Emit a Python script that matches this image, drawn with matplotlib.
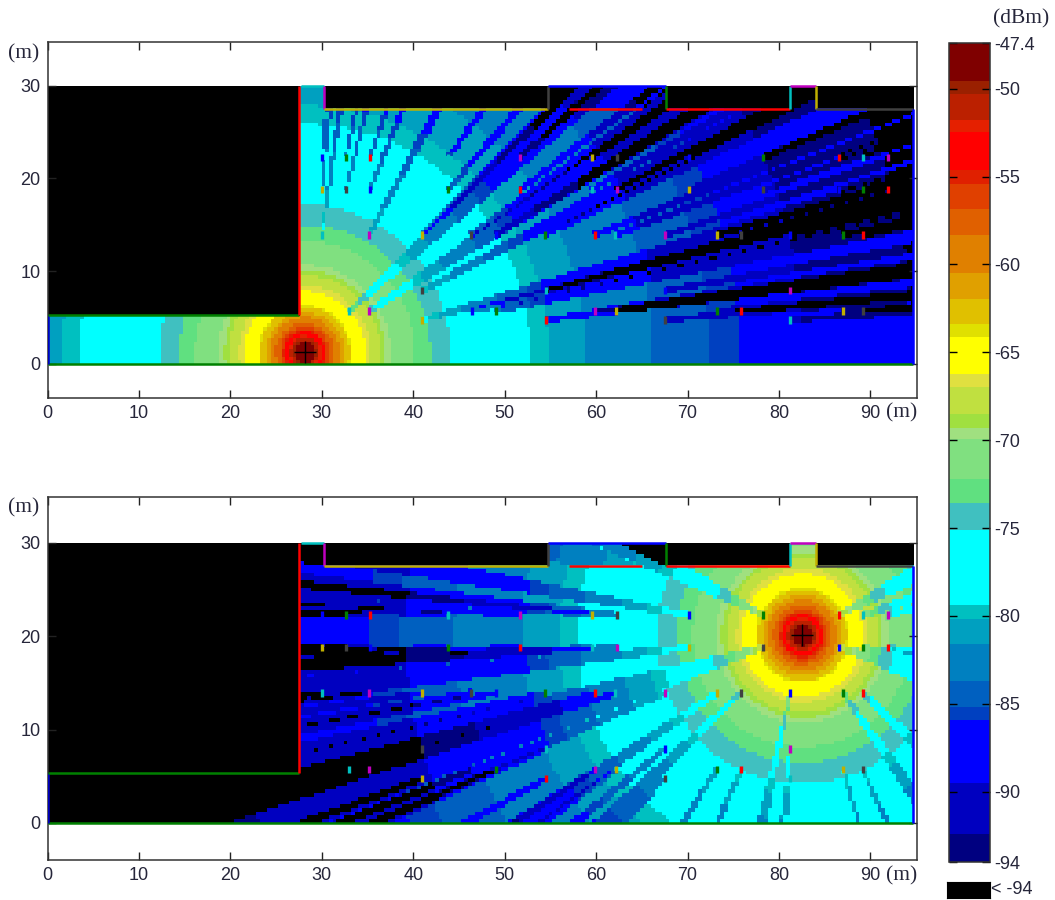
"""Received power maps for two transmitter positions in a hall with pillars"""

import numpy as np
import matplotlib

matplotlib.use("Agg")
import matplotlib.pyplot as plt
import matplotlib.colors as mcolors

plt.rcParams["font.family"] = ["Liberation Sans", "DejaVu Sans"]

TEXT_COLOR = "#26263a"

BAND_EDGES = [
    -94, -92.4, -89.5, -85.9, -85.2, -83.7, -81.6, -80.2, -79.4, -75.1,
    -73.6, -72.2, -69.95, -69.3, -68.5, -67, -66.25, -64.1, -63.4, -61.95,
    -60.5, -58.35, -56.86, -55.4, -54.6, -52.44, -51.8, -50.3, -49.55, -47.4,
]
BAND_COLORS = [
    "#000080", "#0000c0", "#0000ff", "#0040c0", "#0060c0", "#0080c0", "#00a0c0",
    "#00c0c0", "#00ffff", "#40c0c0", "#60e080", "#80e080", "#a0e080", "#a0e040",
    "#c0e040", "#e0e040", "#ffff00", "#e0e000", "#e0c000", "#e0a000", "#e08000",
    "#e06000", "#e04000", "#e02000", "#ff0000", "#e52000", "#bb2000", "#9a2000",
    "#7f0000",
]
CBAR_TICKS = [-94, -90, -85, -80, -75, -70, -65, -60, -55, -50, -47.4]

# distance from the source (m) where each band ends, read along the open rings
RING_RADII = [
    1.15, 1.3, 1.6, 1.8, 2.2, 2.4, 2.75, 3.2, 3.8, 4.3, 4.9, 5.1, 6.6, 7.2,
    8.3, 8.8, 9.4, 12.0, 13.7, 15.9, 24.6, 26.6, 30.7, 38.0, 44.2, 47.5, 75.0,
    95.0, 110.0,
]
RING_DBM = BAND_EDGES[-2::-1]

PILLAR_LOSS_TOP = 5.6
PILLAR_LOSS_BOTTOM = 4.5
PILLAR_HALF_X = 0.1
PILLAR_HALF_Y = 0.3
SOURCE_TOP = (28.15, 1.25)
SOURCE_BOTTOM = (82.55, 20.1)

# pillars: x, y, colour
PILLAR_X = [
    30.0, 32.65, 35.3, 43.8, 51.7, 59.5, 62.3, 70.2, 78.3, 86.6, 89.2, 91.9,
    30.0, 32.65, 35.3, 43.8, 51.7, 59.5, 62.3, 70.2, 78.3, 86.6, 89.2, 91.9,
    30.0, 35.15, 41.0, 46.3, 49.0, 54.4, 59.9, 62.1, 67.5, 73.2, 75.9, 81.2, 87.0, 89.2,
    41.0, 54.5, 67.5, 81.2,
    33.0, 35.15, 46.4, 49.0, 59.9, 62.2, 73.2, 75.9, 87.0, 89.2,
    41.0, 54.5, 67.5, 81.2,
]
PILLAR_Y = [22.25] * 12 + [18.8] * 12 + [13.9] * 14 + [7.9] * 4 + [5.7] * 10 + [4.75] * 4
PILLAR_C = list("bgrcmyk" "bgrcm") + list("ykbgrcmykbgr") + list("cmykbgrcmykbgr") + list("kcbm") + list("cmbgmygryk") + list("yrkc")
PILLAR_COLORS = {
    "b": "#0000ff", "g": "#008000", "r": "#ff0000", "c": "#00c0c0",
    "m": "#c000c0", "y": "#c0b000", "k": "#404040",
}

# wall segments: x0, y0, x1, y1, colour, loss in dB
WALLS = [
    (0, 0, 94.7, 0, "#008000", 0),
    (0, 0, 0, 5.3, "#0000c0", 0),
    (0, 5.3, 27.5, 5.3, "#008000", 40),
    (27.5, 5.3, 27.5, 30, "#ff0000", 40),
    (27.7, 30, 30.2, 30, "#00c0c0", 0),
    (30.2, 27.5, 30.2, 30, "#c000c0", 40),
    (30.2, 27.5, 54.7, 27.5, "#c0b000", 40),
    (54.7, 27.5, 54.7, 30, "#404040", 40),
    (54.7, 30, 67.6, 30, "#0000ff", 0),
    (57.0, 27.5, 65.0, 27.5, "#ff0000", 3),
    (67.6, 27.5, 67.6, 30, "#008000", 40),
    (67.6, 27.5, 81.2, 27.5, "#ff0000", 40),
    (81.2, 27.5, 81.2, 30, "#00c0c0", 40),
    (81.2, 30, 84.0, 30, "#c000c0", 0),
    (84.0, 27.5, 84.0, 30, "#c0b000", 40),
    (84.0, 27.5, 94.7, 27.5, "#404040", 40),
    (94.7, 0, 94.7, 27.5, "#0000ff", 0),
]

# areas outside the hall that show as solid black: x0, y0, x1, y1
SOLID_AREAS = [
    (0, 5.3, 27.5, 30),
    (30.2, 27.5, 54.7, 30),
    (67.6, 27.5, 81.2, 30),
    (84.0, 27.5, 96, 30),
]

CELL = 0.4


def crosses(sx, sy, px, py, wall):
    "True where the straight line source -> cell crosses a wall segment"
    ax, ay, bx, by = wall[:4]
    d1 = (bx - ax) * (sy - ay) - (by - ay) * (sx - ax)
    d2 = (bx - ax) * (py - ay) - (by - ay) * (px - ax)
    d3 = (px - sx) * (ay - sy) - (py - sy) * (ax - sx)
    d4 = (px - sx) * (by - sy) - (py - sy) * (bx - sx)
    return (d1 * d2 < 0) & (d3 * d4 < 0)


def power_map(source, pillar_loss):
    sx, sy = source
    xs = np.arange(0, 237) * CELL
    ys = np.arange(0, 75) * CELL
    xc, yc = np.meshgrid(xs + CELL / 2, ys + CELL / 2)
    dist = np.hypot(xc - sx, yc - sy)
    level = np.interp(dist, RING_RADII, RING_DBM)

    ang = np.arctan2(yc - sy, xc - sx)
    for x, y in zip(PILLAR_X, PILLAR_Y):
        mid = np.arctan2(y - sy, x - sx)
        corners = [
            (x - PILLAR_HALF_X, y - PILLAR_HALF_Y),
            (x + PILLAR_HALF_X, y - PILLAR_HALF_Y),
            (x - PILLAR_HALF_X, y + PILLAR_HALF_Y),
            (x + PILLAR_HALF_X, y + PILLAR_HALF_Y),
        ]
        off = [np.angle(np.exp(1j * (np.arctan2(cy - sy, cx - sx) - mid))) for cx, cy in corners]
        rel = np.angle(np.exp(1j * (ang - mid)))
        behind = dist > np.hypot(x - sx, y - sy)
        level = level - pillar_loss * ((rel > min(off)) & (rel < max(off)) & behind)

    for wall in WALLS:
        if wall[5] > 0:
            level = level - wall[5] * crosses(sx, sy, xc, yc, wall)

    for x0, y0, x1, y1 in SOLID_AREAS:
        level[(xc > x0) & (xc < x1) & (yc > y0) & (yc < y1)] = -120

    edges_x = np.append(xs, xs[-1] + CELL)
    edges_y = np.append(ys, ys[-1] + CELL)
    return edges_x, edges_y, level


def draw_panel(fig, rect, ylim, source, pillar_loss, cmap, norm):
    ax = fig.add_axes(rect)
    x, y, level = power_map(source, pillar_loss)
    ax.pcolormesh(x, y, level, cmap=cmap, norm=norm, rasterized=True)

    for x0, y0, x1, y1, color, _ in WALLS:
        ax.plot([x0, x1], [y0, y1], color=color, lw=1.8, solid_capstyle="butt", zorder=3)

    ax.vlines(
        PILLAR_X,
        np.array(PILLAR_Y) - 0.4,
        np.array(PILLAR_Y) + 0.4,
        colors=[PILLAR_COLORS[c] for c in PILLAR_C],
        lw=2.4,
        zorder=4,
    )
    ax.plot(source[0], source[1], marker="+", color="black", ms=16, mew=1.0, zorder=5)

    ax.set_xlim(0, 95.1)
    ax.set_ylim(*ylim)
    ax.set_xticks(range(0, 100, 10))
    ax.set_yticks([0, 10, 20, 30])
    ax.tick_params(
        direction="in", top=True, right=True, length=5.8, width=1,
        labelsize=13, labelcolor=TEXT_COLOR, color="#222222", pad=5,
    )
    for spine in ax.spines.values():
        spine.set_linewidth(1.1)
        spine.set_color("#333333")
    return ax


def main():
    W, H = 1055.0, 900.0
    fig = plt.figure(figsize=(W / 100, H / 100), dpi=100)

    cmap = mcolors.ListedColormap(BAND_COLORS)
    cmap.set_under("black")
    norm = mcolors.BoundaryNorm(BAND_EDGES, cmap.N)

    draw_panel(
        fig, [47.5 / W, 1 - 398 / H, 869.5 / W, 356 / H], (-3.67, 34.7),
        SOURCE_TOP, PILLAR_LOSS_TOP, cmap, norm,
    )
    draw_panel(
        fig, [47.5 / W, 1 - 860 / H, 869.5 / W, 363 / H], (-3.97, 34.9),
        SOURCE_BOTTOM, PILLAR_LOSS_BOTTOM, cmap, norm,
    )

    serif = {"family": "Liberation Serif", "color": TEXT_COLOR, "fontsize": 15.5}
    fig.text(24 / W, 1 - 54 / H, "(m)", ha="center", va="center", **serif)
    fig.text(24 / W, 1 - 508 / H, "(m)", ha="center", va="center", **serif)
    fig.text(902 / W, 1 - 413 / H, "(m)", ha="center", va="center", **serif)
    fig.text(902 / W, 1 - 876 / H, "(m)", ha="center", va="center", **serif)
    fig.text(1021 / W, 1 - 19 / H, "(dBm)", ha="center", va="center", **serif)

    cax = fig.add_axes([949 / W, 1 - 862 / H, 41 / W, 819 / H])
    sm = plt.cm.ScalarMappable(norm=norm, cmap=cmap)
    cbar = fig.colorbar(sm, cax=cax, spacing="proportional", ticks=CBAR_TICKS, drawedges=False)
    cbar.ax.minorticks_off()
    cbar.ax.set_yticklabels([str(t) for t in CBAR_TICKS])
    cbar.ax.tick_params(
        direction="in", left=True, right=True, length=5.8, width=1,
        labelsize=13, labelcolor=TEXT_COLOR, pad=3,
    )
    cbar.outline.set_linewidth(1.1)
    cbar.outline.set_edgecolor("#333333")

    lax = fig.add_axes([947 / W, 1 - 898 / H, 43 / W, 16 / H])
    lax.set_facecolor("black")
    lax.set_xticks([])
    lax.set_yticks([])
    fig.text(991 / W, 1 - 890 / H, "< -94", ha="left", va="center", fontsize=13, color=TEXT_COLOR)

    fig.savefig("out.png", dpi=100)


main()
